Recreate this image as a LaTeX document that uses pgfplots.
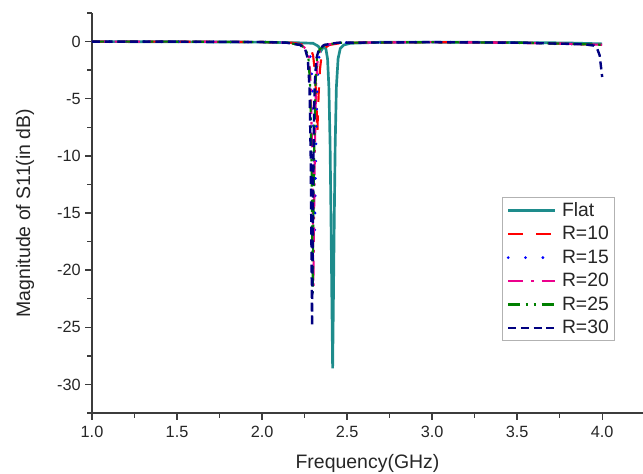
\documentclass[border=0pt]{standalone}
\usepackage{fontspec}
\setmainfont{Liberation Sans}
\usepackage{pgfplots}
\pgfplotsset{compat=1.18}

\definecolor{flatteal}{HTML}{1E8C8C}
\definecolor{txtgray}{HTML}{262626}
\definecolor{axgray}{HTML}{3C3C3C}

\begin{document}
\begin{tikzpicture}
% page frame: 643x474 px at 0.75pt per px, axis box from (92,13) to (643,413)
\path[use as bounding box] (-69pt,-45.75pt) rectangle (413.25pt,309.75pt);
\begin{axis}[
  scale only axis,
  width=413.25pt, height=300pt,
  xmin=1.0, xmax=4.24,
  ymin=-32.5, ymax=2.5,
  axis x line*=bottom, axis y line*=left,
  axis line style={axgray, line width=1.1pt, -},
  tick align=outside,
  tick style={axgray, line width=1.0pt},
  major tick length=5pt, minor tick length=3.5pt,
  xtick={1.0,1.5,...,4.0},
  minor xtick={1.25,1.75,...,4.0},
  ytick={-30,-25,...,0},
  minor ytick={-32.5,-27.5,...,2.5},
  /pgf/number format/assume math mode=true,
  xticklabel style={yshift=-1.5pt, /pgf/number format/.cd, fixed, fixed zerofill, precision=1},
  ticklabel style={font=\fontsize{12.2}{14}\selectfont, text=txtgray},
  xlabel={Frequency(GHz)},
  ylabel={Magnitude of S11(in dB)},
  label style={font=\fontsize{14.6}{17}\selectfont, text=txtgray},
  xlabel style={at={(axis description cs:0.5,-0.125)}, anchor=center},
  ylabel style={at={(axis description cs:-0.1216,0.5)}, anchor=center, rotate=0},
  legend style={at={(axis description cs:0.949,0.54)}, anchor=north east,
    draw=gray!60, line width=0.8pt, fill=white,
    font=\fontsize{14.5}{16}\selectfont, text=txtgray,
    row sep=3.6pt, column sep=3pt, inner xsep=3pt, inner ysep=2.5pt,
    nodes={inner sep=1.2pt}},
  legend cell align=left,
  legend image code/.code={\draw[#1] (0pt,0pt) -- (35pt,0pt);},
]
\addplot[flatteal, line width=2pt] coordinates {
  (1.0,0) (1.5,-0.02) (2.0,-0.05) (2.2,-0.1) (2.3,-0.15) (2.33,-0.4)
  (2.347,-0.8) (2.36,-0.5) (2.375,-0.6) (2.385,-1.5) (2.393,-4)
  (2.400,-9) (2.405,-15) (2.410,-22) (2.415,-28.6) (2.420,-22)
  (2.425,-15) (2.430,-9) (2.437,-4) (2.447,-1.5) (2.46,-0.6)
  (2.48,-0.3) (2.52,-0.15) (2.7,-0.06) (3.0,-0.05) (3.5,-0.08)
  (3.8,-0.12) (4.0,-0.2)
};
\addlegendentry{Flat}
\addplot[red, line width=1.6pt, dash pattern=on 11pt off 10pt] coordinates {
  (1.0,0) (1.5,-0.01) (2.0,-0.04) (2.175,-0.1) (2.255,-0.3) (2.285,-0.6)
  (2.30,-1.2) (2.31,-2.5) (2.317,-4.5) (2.321,-6) (2.325,-8)
  (2.329,-6) (2.333,-4.5) (2.34,-2.5) (2.35,-1.2) (2.365,-0.6)
  (2.395,-0.3) (2.475,-0.1) (3.0,-0.05) (3.5,-0.1) (3.8,-0.2) (4.0,-0.28)
};
\addlegendentry{R=10}
\addplot[blue, line width=2.3pt, line cap=round, dash pattern=on 0pt off 13pt] coordinates {
  (1.0,0) (1.5,-0.01) (2.0,-0.04) (2.16,-0.1) (2.24,-0.3) (2.27,-0.7)
  (2.285,-1.4) (2.295,-3.5) (2.302,-8) (2.306,-12) (2.31,-16.5)
  (2.314,-12) (2.318,-8) (2.325,-3.5) (2.335,-1.4) (2.35,-0.7)
  (2.38,-0.3) (2.46,-0.1) (3.0,-0.05) (3.5,-0.1) (3.8,-0.2) (4.0,-0.28)
};
\addlegendentry{R=15}
\addplot[magenta, line width=1.6pt, dash pattern=on 11pt off 6pt on 2pt off 6pt] coordinates {
  (1.0,0) (1.5,-0.01) (2.0,-0.04) (2.152,-0.1) (2.232,-0.3) (2.262,-0.7)
  (2.277,-1.5) (2.287,-4) (2.294,-10) (2.298,-15) (2.302,-21.5)
  (2.306,-15) (2.310,-10) (2.317,-4) (2.327,-1.5) (2.342,-0.7)
  (2.372,-0.3) (2.452,-0.1) (3.0,-0.05) (3.5,-0.1) (3.8,-0.2) (4.0,-0.28)
};
\addlegendentry{R=20}
\addplot[green!50!black, line width=1.6pt, dash pattern=on 9pt off 4pt on 2pt off 4pt on 2pt off 4pt] coordinates {
  (1.0,0) (1.5,-0.01) (2.0,-0.04) (2.148,-0.1) (2.228,-0.3) (2.258,-0.7)
  (2.273,-1.5) (2.283,-4) (2.290,-10) (2.294,-15) (2.298,-22)
  (2.302,-15) (2.306,-10) (2.313,-4) (2.323,-1.5) (2.338,-0.7)
  (2.368,-0.3) (2.448,-0.1) (3.0,-0.05) (3.5,-0.1) (3.8,-0.2) (4.0,-0.28)
};
\addlegendentry{R=25}
\addplot[blue!50!black, line width=1.8pt, dash pattern=on 6pt off 3.5pt] coordinates {
  (1.0,0) (1.5,-0.01) (2.0,-0.04) (2.144,-0.1) (2.224,-0.3) (2.254,-0.7)
  (2.269,-1.5) (2.279,-4) (2.286,-10) (2.290,-17) (2.294,-24.9)
  (2.298,-17) (2.302,-10) (2.309,-4) (2.319,-1.5) (2.334,-0.7)
  (2.364,-0.3) (2.444,-0.1) (3.0,-0.05) (3.5,-0.1) (3.8,-0.2)
  (3.9,-0.25) (3.95,-0.35) (3.97,-0.6) (3.985,-1.2) (4.0,-3.1)
};
\addlegendentry{R=30}
\end{axis}
\end{tikzpicture}
\end{document}
